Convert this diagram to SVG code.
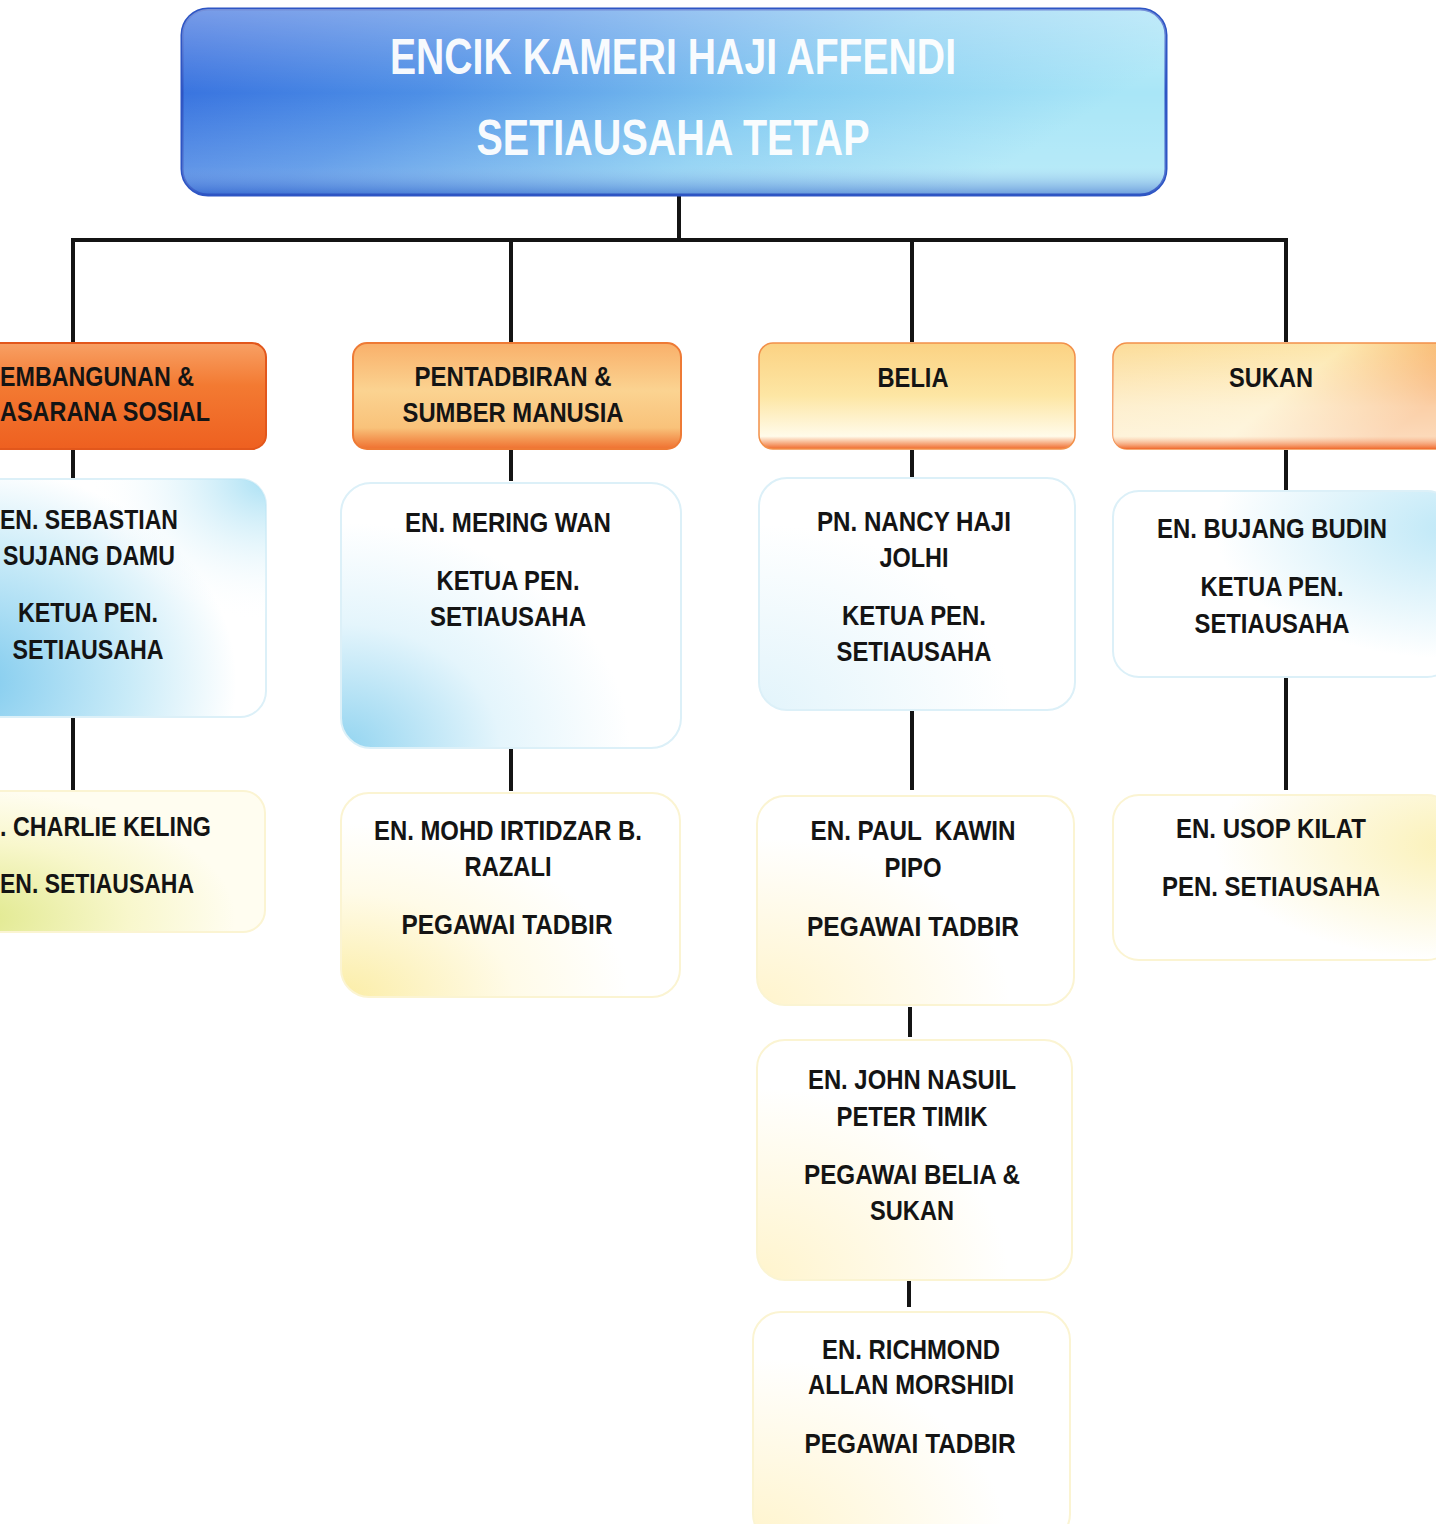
<svg xmlns="http://www.w3.org/2000/svg" width="1436" height="1524" viewBox="0 0 1436 1524">
<defs>
<style>
.t{font-family:"Liberation Sans Narrow","Liberation Sans",Arial,sans-serif;font-weight:bold;font-size:28px;fill:#141414;text-anchor:middle;white-space:pre}
.ts{text-anchor:start}
.title{font-family:"Liberation Sans Narrow","Liberation Sans",Arial,sans-serif;font-weight:bold;font-size:50px;fill:#ffffff;text-anchor:middle;opacity:0.95}
.ln{stroke:#141414;stroke-width:4;fill:none}
.bb{stroke:#dcf0f8;stroke-width:2}
.yb{stroke:#fbf4d2;stroke-width:2}
</style>
<linearGradient id="gTop" x1="0" y1="0" x2="1" y2="0.3">
<stop offset="0" stop-color="#2f66dc"/>
<stop offset="0.35" stop-color="#4d8fe6"/>
<stop offset="0.7" stop-color="#86cdf2"/>
<stop offset="1" stop-color="#a9e6f7"/>
</linearGradient>
<linearGradient id="gTopHi" x1="0" y1="0" x2="0" y2="1">
<stop offset="0" stop-color="#ffffff" stop-opacity="0.35"/>
<stop offset="0.45" stop-color="#ffffff" stop-opacity="0"/>
<stop offset="0.85" stop-color="#ffffff" stop-opacity="0.15"/>
<stop offset="1" stop-color="#2a50c0" stop-opacity="0.5"/>
</linearGradient>
<linearGradient id="gO1" x1="0" y1="0" x2="0" y2="1">
<stop offset="0" stop-color="#f8a064"/>
<stop offset="0.4" stop-color="#f37a32"/>
<stop offset="1" stop-color="#ee6020"/>
</linearGradient>
<linearGradient id="gO2" x1="0" y1="0" x2="0" y2="1">
<stop offset="0" stop-color="#f9b06a"/>
<stop offset="0.45" stop-color="#fbd391"/>
<stop offset="0.8" stop-color="#f9c27a"/>
<stop offset="1" stop-color="#ef7030"/>
</linearGradient>
<linearGradient id="gO3" x1="0" y1="0" x2="0" y2="1">
<stop offset="0" stop-color="#fbd283"/>
<stop offset="0.5" stop-color="#fde6a4"/>
<stop offset="0.88" stop-color="#fffbea"/>
<stop offset="1" stop-color="#f06a2c"/>
</linearGradient>
<linearGradient id="gO4" x1="0" y1="0" x2="1" y2="0.4">
<stop offset="0" stop-color="#fcdc98"/>
<stop offset="0.6" stop-color="#fde7ad"/>
<stop offset="1" stop-color="#f7a050"/>
</linearGradient>
<linearGradient id="gO4v" x1="0" y1="0" x2="0" y2="1">
<stop offset="0" stop-color="#ffffff" stop-opacity="0"/>
<stop offset="0.6" stop-color="#ffffff" stop-opacity="0.5"/>
<stop offset="0.88" stop-color="#ffffff" stop-opacity="0.6"/>
<stop offset="1" stop-color="#f06a2c" stop-opacity="1"/>
</linearGradient>
<radialGradient id="gB1" cx="0" cy="0.85" r="0.9">
<stop offset="0" stop-color="#7fcaee"/>
<stop offset="0.6" stop-color="#c9ebf8"/>
<stop offset="1" stop-color="#ffffff"/>
</radialGradient>
<radialGradient id="gB1b" cx="1" cy="0" r="0.6">
<stop offset="0" stop-color="#a9e0f4" stop-opacity="1"/>
<stop offset="1" stop-color="#ffffff" stop-opacity="0"/>
</radialGradient>
<radialGradient id="gB2" cx="0" cy="1" r="0.85">
<stop offset="0" stop-color="#92d4f0"/>
<stop offset="0.55" stop-color="#e4f5fc"/>
<stop offset="1" stop-color="#ffffff"/>
</radialGradient>
<radialGradient id="gB3" cx="0" cy="1" r="0.8">
<stop offset="0" stop-color="#e2f4fb"/>
<stop offset="1" stop-color="#ffffff"/>
</radialGradient>
<radialGradient id="gB4" cx="1" cy="0.2" r="0.7">
<stop offset="0" stop-color="#bfe8f7"/>
<stop offset="1" stop-color="#ffffff"/>
</radialGradient>
<radialGradient id="gY1" cx="0" cy="0.9" r="0.9">
<stop offset="0" stop-color="#dfe88a"/>
<stop offset="0.6" stop-color="#f8f7cc"/>
<stop offset="1" stop-color="#fffdf0"/>
</radialGradient>
<radialGradient id="gY2" cx="0" cy="1" r="0.85">
<stop offset="0" stop-color="#fbeda6"/>
<stop offset="0.6" stop-color="#fffbe8"/>
<stop offset="1" stop-color="#ffffff"/>
</radialGradient>
<radialGradient id="gY3" cx="0" cy="1" r="0.8">
<stop offset="0" stop-color="#fff4cc"/>
<stop offset="1" stop-color="#ffffff"/>
</radialGradient>
<radialGradient id="gY4" cx="1" cy="0.3" r="0.7">
<stop offset="0" stop-color="#fbf1b8"/>
<stop offset="1" stop-color="#ffffff"/>
</radialGradient>
</defs>
<rect width="1436" height="1524" fill="#ffffff"/>

<g id="connectors">
<line class="ln" x1="679" y1="192" x2="679" y2="240"/>
<line class="ln" x1="71" y1="240" x2="1288" y2="240"/>
<line class="ln" x1="73" y1="240" x2="73" y2="342"/>
<line class="ln" x1="511" y1="240" x2="511" y2="342"/>
<line class="ln" x1="912" y1="240" x2="912" y2="342"/>
<line class="ln" x1="1286" y1="240" x2="1286" y2="342"/>
<line class="ln" x1="73" y1="450" x2="73" y2="478"/>
<line class="ln" x1="511" y1="450" x2="511" y2="481"/>
<line class="ln" x1="912" y1="450" x2="912" y2="480"/>
<line class="ln" x1="1286" y1="450" x2="1286" y2="490"/>
<line class="ln" x1="73" y1="716" x2="73" y2="790"/>
<line class="ln" x1="511" y1="746" x2="511" y2="791"/>
<line class="ln" x1="912" y1="707" x2="912" y2="790"/>
<line class="ln" x1="1286" y1="673" x2="1286" y2="790"/>
<line class="ln" x1="910" y1="1007" x2="910" y2="1037"/>
<line class="ln" x1="909" y1="1280" x2="909" y2="1307"/>
</g>

<g id="n-top">
<rect x="182" y="9" width="984" height="186" rx="26" fill="url(#gTop)" stroke="#2d55c4" stroke-width="3"/>
<rect x="182" y="9" width="984" height="186" rx="26" fill="url(#gTopHi)"/>
<text class="title" x="673" y="74" textLength="566" lengthAdjust="spacingAndGlyphs">ENCIK KAMERI HAJI AFFENDI</text>
<text class="title" x="673" y="155" textLength="393" lengthAdjust="spacingAndGlyphs">SETIAUSAHA TETAP</text>
</g>

<g id="n-pembangunan">
<rect x="-30" y="343" width="296" height="106" rx="14" fill="url(#gO1)" stroke="#e2571c" stroke-width="2"/>
<text class="t ts" x="0" y="386" textLength="194" lengthAdjust="spacingAndGlyphs">EMBANGUNAN &amp;</text>
<text class="t ts" x="0" y="421" textLength="210" lengthAdjust="spacingAndGlyphs">ASARANA SOSIAL</text>
</g>
<g id="n-pentadbiran">
<rect x="353" y="343" width="328" height="106" rx="14" fill="url(#gO2)" stroke="#ee7a35" stroke-width="2"/>
<text class="t" x="513" y="386" textLength="197" lengthAdjust="spacingAndGlyphs">PENTADBIRAN &amp;</text>
<text class="t" x="513" y="422" textLength="221" lengthAdjust="spacingAndGlyphs">SUMBER MANUSIA</text>
</g>
<g id="n-belia">
<rect x="759" y="343" width="316" height="106" rx="14" fill="url(#gO3)" stroke="#f2904a" stroke-width="1.5"/>
<text class="t" x="913" y="387" textLength="71" lengthAdjust="spacingAndGlyphs">BELIA</text>
</g>
<g id="n-sukan">
<rect x="1113" y="343" width="340" height="106" rx="14" fill="url(#gO4)" stroke="#f2904a" stroke-width="1.5"/>
<rect x="1113" y="343" width="340" height="106" rx="14" fill="url(#gO4v)"/>
<text class="t" x="1271" y="387" textLength="84" lengthAdjust="spacingAndGlyphs">SUKAN</text>
</g>

<g id="n-sebastian">
<rect class="bb" x="-30" y="479" width="296" height="238" rx="26" fill="url(#gB1)"/>
<rect x="-30" y="479" width="296" height="238" rx="26" fill="url(#gB1b)"/>
<text class="t" x="89" y="529" textLength="178" lengthAdjust="spacingAndGlyphs">EN. SEBASTIAN</text>
<text class="t" x="89" y="565" textLength="172" lengthAdjust="spacingAndGlyphs">SUJANG DAMU</text>
<text class="t" x="88" y="622" textLength="140" lengthAdjust="spacingAndGlyphs">KETUA PEN.</text>
<text class="t" x="88" y="659" textLength="151" lengthAdjust="spacingAndGlyphs">SETIAUSAHA</text>
</g>
<g id="n-mering">
<rect class="bb" x="341" y="483" width="340" height="265" rx="30" fill="url(#gB2)"/>
<text class="t" x="508" y="532" textLength="206" lengthAdjust="spacingAndGlyphs">EN. MERING WAN</text>
<text class="t" x="508" y="590" textLength="143" lengthAdjust="spacingAndGlyphs">KETUA PEN.</text>
<text class="t" x="508" y="626" textLength="156" lengthAdjust="spacingAndGlyphs">SETIAUSAHA</text>
</g>
<g id="n-nancy">
<rect class="bb" x="759" y="478" width="316" height="232" rx="28" fill="url(#gB3)"/>
<text class="t" x="914" y="531" textLength="194" lengthAdjust="spacingAndGlyphs">PN. NANCY HAJI</text>
<text class="t" x="914" y="567" textLength="69" lengthAdjust="spacingAndGlyphs">JOLHI</text>
<text class="t" x="914" y="625" textLength="144" lengthAdjust="spacingAndGlyphs">KETUA PEN.</text>
<text class="t" x="914" y="661" textLength="155" lengthAdjust="spacingAndGlyphs">SETIAUSAHA</text>
</g>
<g id="n-bujang">
<rect class="bb" x="1113" y="491" width="340" height="186" rx="26" fill="url(#gB4)"/>
<text class="t" x="1272" y="538" textLength="230" lengthAdjust="spacingAndGlyphs">EN. BUJANG BUDIN</text>
<text class="t" x="1272" y="596" textLength="143" lengthAdjust="spacingAndGlyphs">KETUA PEN.</text>
<text class="t" x="1272" y="633" textLength="155" lengthAdjust="spacingAndGlyphs">SETIAUSAHA</text>
</g>

<g id="n-charlie">
<rect class="yb" x="-30" y="791" width="295" height="141" rx="22" fill="url(#gY1)"/>
<text class="t ts" x="0" y="836" textLength="211" lengthAdjust="spacingAndGlyphs">. CHARLIE KELING</text>
<text class="t ts" x="0" y="893" textLength="194" lengthAdjust="spacingAndGlyphs">EN. SETIAUSAHA</text>
</g>
<g id="n-mohd">
<rect class="yb" x="341" y="793" width="339" height="204" rx="28" fill="url(#gY2)"/>
<text class="t" x="508" y="840" textLength="268" lengthAdjust="spacingAndGlyphs">EN. MOHD IRTIDZAR B.</text>
<text class="t" x="508" y="876" textLength="87" lengthAdjust="spacingAndGlyphs">RAZALI</text>
<text class="t" x="507" y="934" textLength="211" lengthAdjust="spacingAndGlyphs">PEGAWAI TADBIR</text>
</g>
<g id="n-paul">
<rect class="yb" x="757" y="796" width="317" height="209" rx="28" fill="url(#gY3)"/>
<text class="t" x="913" y="840" textLength="205" lengthAdjust="spacingAndGlyphs" xml:space="preserve">EN. PAUL  KAWIN</text>
<text class="t" x="913" y="877" textLength="57" lengthAdjust="spacingAndGlyphs">PIPO</text>
<text class="t" x="913" y="936" textLength="212" lengthAdjust="spacingAndGlyphs">PEGAWAI TADBIR</text>
</g>
<g id="n-usop">
<rect class="yb" x="1113" y="795" width="340" height="165" rx="26" fill="url(#gY4)"/>
<text class="t" x="1271" y="838" textLength="190" lengthAdjust="spacingAndGlyphs">EN. USOP KILAT</text>
<text class="t" x="1271" y="896" textLength="218" lengthAdjust="spacingAndGlyphs">PEN. SETIAUSAHA</text>
</g>
<g id="n-john">
<rect class="yb" x="757" y="1040" width="315" height="240" rx="28" fill="url(#gY3)"/>
<text class="t" x="912" y="1089" textLength="208" lengthAdjust="spacingAndGlyphs">EN. JOHN NASUIL</text>
<text class="t" x="912" y="1126" textLength="151" lengthAdjust="spacingAndGlyphs">PETER TIMIK</text>
<text class="t" x="912" y="1184" textLength="216" lengthAdjust="spacingAndGlyphs">PEGAWAI BELIA &amp;</text>
<text class="t" x="912" y="1220" textLength="84" lengthAdjust="spacingAndGlyphs">SUKAN</text>
</g>
<g id="n-richmond">
<rect class="yb" x="753" y="1312" width="317" height="230" rx="28" fill="url(#gY3)"/>
<text class="t" x="911" y="1359" textLength="178" lengthAdjust="spacingAndGlyphs">EN. RICHMOND</text>
<text class="t" x="911" y="1394" textLength="206" lengthAdjust="spacingAndGlyphs">ALLAN MORSHIDI</text>
<text class="t" x="910" y="1453" textLength="211" lengthAdjust="spacingAndGlyphs">PEGAWAI TADBIR</text>
</g>
</svg>
